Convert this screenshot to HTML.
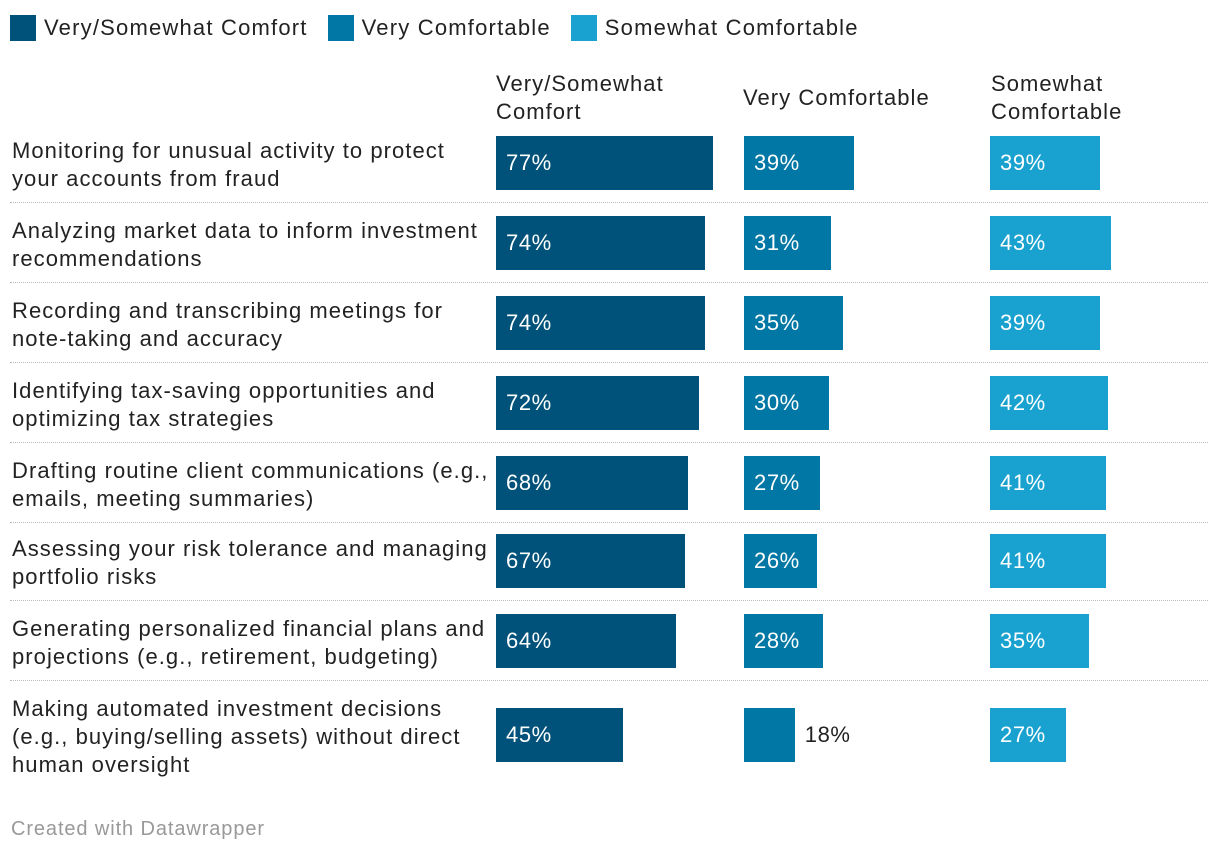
<!DOCTYPE html>
<html><head><meta charset="utf-8"><style>
body{margin:0;width:1220px;height:856px;background:#fff;font-family:"Liberation Sans",sans-serif;position:relative;overflow:hidden}
.a{position:absolute;white-space:nowrap}
.lbl{font-size:22px;color:#222;line-height:28px;letter-spacing:1.05px}
</style></head><body>
<div class="a" style="left:10px;top:14px;font-size:22px;letter-spacing:1.2px;color:#222;display:flex;align-items:center;height:28px">
 <span style="width:26px;height:26px;background:#00527a;margin-right:8px"></span><span style="margin-right:20px">Very/Somewhat Comfort</span>
 <span style="width:26px;height:26px;background:#0077a4;margin-right:8px"></span><span style="margin-right:20px">Very Comfortable</span>
 <span style="width:26px;height:26px;background:#19a2cf;margin-right:8px"></span><span>Somewhat Comfortable</span>
</div>
<div class="a lbl" style="left:496px;top:70px">Very/Somewhat<br>Comfort</div>
<div class="a lbl" style="left:743px;top:84px">Very Comfortable</div>
<div class="a lbl" style="left:991px;top:70px">Somewhat<br>Comfortable</div>
<div id="chart"></div>
<div class="a" style="left:11px;top:818px;font-size:20px;letter-spacing:0.9px;color:#999">Created with Datawrapper</div>
<script>
const categories=["Monitoring for unusual activity to protect<br>your accounts from fraud","Analyzing market data to inform investment<br>recommendations","Recording and transcribing meetings for<br>note-taking and accuracy","Identifying tax-saving opportunities and<br>optimizing tax strategies","Drafting routine client communications (e.g.,<br>emails, meeting summaries)","Assessing your risk tolerance and managing<br>portfolio risks","Generating personalized financial plans and<br>projections (e.g., retirement, budgeting)","Making automated investment decisions<br>(e.g., buying/selling assets) without direct<br>human oversight"];
const totalVals=[77,74,74,72,68,67,64,45];
const veryVals=[39,31,35,30,27,26,28,18];
const somewhatVals=[39,43,39,42,41,41,35,27];
const rowTops=[136,216,296,376,456,534,614,708];
const seps=[202,282,362,442,522,600,680];
const colX=[496,744,990], colors=["#00527a","#0077a4","#19a2cf"], names=["total","very","somewhat"];
const x=v=>v*2.82;
const c=document.getElementById('chart');
const series=[totalVals,veryVals,somewhatVals];
categories.forEach((cat,i)=>{
 const t=rowTops[i];
 const l=document.createElement('div');
 
 
 l.className='a lbl';l.innerHTML=cat;
 const lines=cat.split('<br>').length;
 l.style.left='12px';l.style.top=(t+29-lines*14)+'px';
 c.appendChild(l);
 series.forEach((s,j)=>{
  const w=x(s[i]);
  const b=document.createElement('div');
  
  
  b.className='a';
  b.style.cssText=`left:${colX[j]}px;top:${t}px;width:${w}px;height:54px;background:${colors[j]}`;
  c.appendChild(b);
  const v=document.createElement('div');
  
  
  v.className='a';v.textContent=s[i]+'%';
  const inside=w>60;
  v.style.cssText=`left:${inside?colX[j]+10:colX[j]+w+10}px;top:${t+13}px;font-size:22px;letter-spacing:0.6px;line-height:28px;color:${inside?'#fff':'#222'}`;
  c.appendChild(v);
 });
});
seps.forEach(y=>{
 const d=document.createElement('div');
 
 
 d.className='a';
 d.style.cssText=`left:10px;top:${y}px;width:1198px;border-top:1px dotted #bbb`;
 c.appendChild(d);
});
</script>
</body></html>
